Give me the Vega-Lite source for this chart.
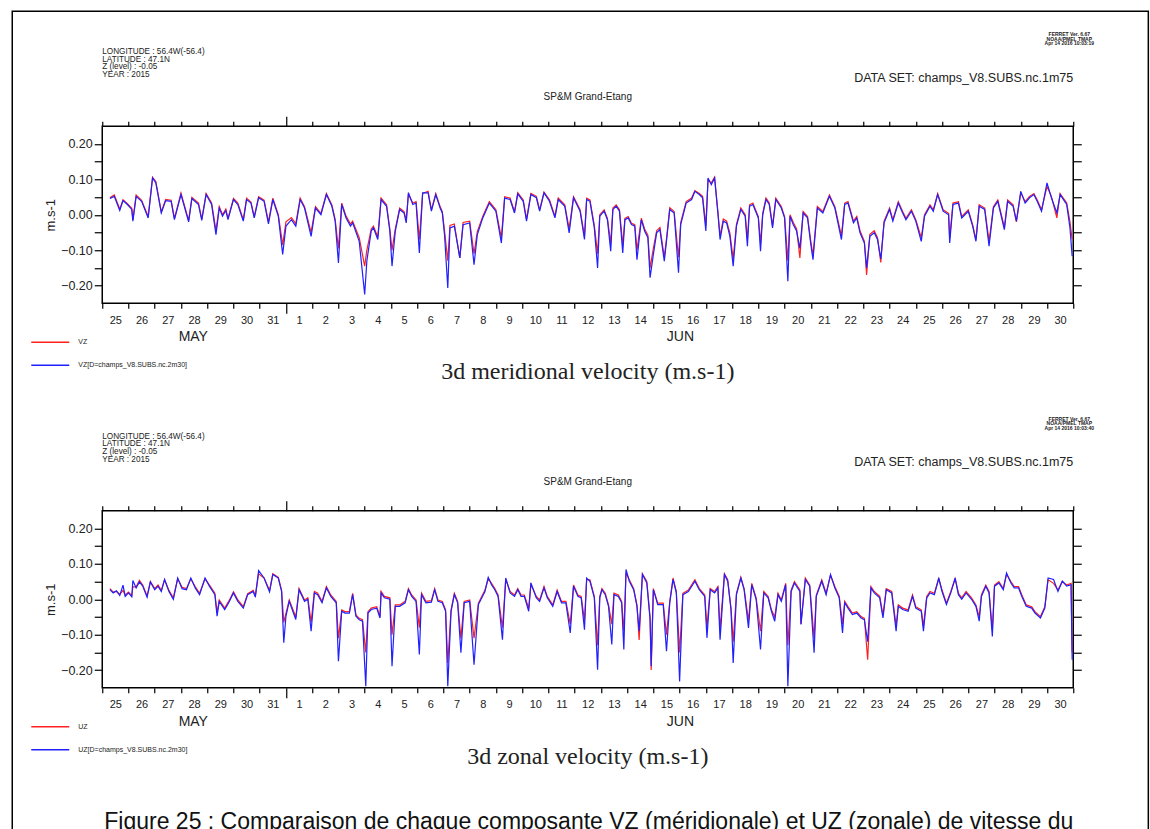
{
  "$schema": "https://vega.github.io/schema/vega-lite/v6.json",
  "background": "white",
  "padding": {"left": 10.25, "top": 9.25, "right": 0, "bottom": 0},
  "bounds": "flush",
  "spacing": 207.5,
  "resolve": {"scale": {"color": "independent"}, "legend": {"color": "independent"}},
  "config": {
    "view": {"stroke": "#000", "strokeWidth": 1.5},
    "axis": {"domain": false, "grid": false, "tickColor": "#000", "labelColor": "#222", "labelFont": "Liberation Sans", "titleFont": "Liberation Sans", "titleFontWeight": "normal", "titleColor": "#222"},
    "legend": {"orient": "none", "legendX": -72, "legendY": 196, "direction": "vertical", "title": null, "symbolType": "stroke", "symbolSize": 1444, "symbolStrokeWidth": 1.5, "labelFontSize": 7, "labelFont": "Liberation Sans", "labelOffset": 8, "rowPadding": -12, "labelColor": "#222", "labelLimit": 0, "padding": 0}
  },
  "datasets": {
    "vz": [
      {"t":"2015-05-25T07:00Z","a":0.048,"b":0.046},{"t":"2015-05-25T11:00Z","a":0.056,"b":0.052},{"t":"2015-05-25T16:00Z","a":0.016,"b":0.012},{"t":"2015-05-25T19:00Z","a":0.042,"b":0.040},{"t":"2015-05-25T23:00Z","a":0.031,"b":0.029},
      {"t":"2015-05-26T03:00Z","a":0.018,"b":0.015},{"t":"2015-05-26T04:00Z","a":-0.014,"b":-0.018},{"t":"2015-05-26T07:00Z","a":0.056,"b":0.052},{"t":"2015-05-26T12:00Z","a":0.041,"b":0.038},{"t":"2015-05-26T18:00Z","a":-0.005,"b":-0.009},{"t":"2015-05-26T22:00Z","a":0.106,"b":0.104},
      {"t":"2015-05-27T01:00Z","a":0.094,"b":0.090},{"t":"2015-05-27T06:00Z","a":0.008,"b":0.005},{"t":"2015-05-27T10:00Z","a":0.043,"b":0.040},{"t":"2015-05-27T15:00Z","a":0.041,"b":0.038},{"t":"2015-05-27T18:00Z","a":-0.010,"b":-0.014},
      {"t":"2015-05-28T00:00Z","a":0.061,"b":0.057},{"t":"2015-05-28T07:00Z","a":-0.016,"b":-0.020},{"t":"2015-05-28T10:00Z","a":0.049,"b":0.046},{"t":"2015-05-28T16:00Z","a":0.033,"b":0.029},{"t":"2015-05-28T19:00Z","a":-0.012,"b":-0.016},{"t":"2015-05-28T23:00Z","a":0.060,"b":0.057},
      {"t":"2015-05-29T04:00Z","a":0.033,"b":0.029},{"t":"2015-05-29T08:00Z","a":-0.045,"b":-0.056},{"t":"2015-05-29T11:00Z","a":0.023,"b":0.019},{"t":"2015-05-29T14:00Z","a":0.000,"b":-0.004},{"t":"2015-05-29T17:00Z","a":0.016,"b":0.012},{"t":"2015-05-29T19:00Z","a":-0.010,"b":-0.014},
      {"t":"2015-05-30T00:00Z","a":0.046,"b":0.043},{"t":"2015-05-30T04:00Z","a":0.033,"b":0.029},{"t":"2015-05-30T09:00Z","a":-0.014,"b":-0.018},{"t":"2015-05-30T12:00Z","a":0.047,"b":0.043},{"t":"2015-05-30T16:00Z","a":0.036,"b":0.033},{"t":"2015-05-30T19:00Z","a":-0.005,"b":-0.009},{"t":"2015-05-30T23:00Z","a":0.051,"b":0.048},
      {"t":"2015-05-31T04:00Z","a":0.041,"b":0.038},{"t":"2015-05-31T08:00Z","a":-0.020,"b":-0.026},{"t":"2015-05-31T12:00Z","a":0.047,"b":0.043},{"t":"2015-05-31T17:00Z","a":0.000,"b":-0.004},{"t":"2015-05-31T21:00Z","a":-0.085,"b":-0.112},
      {"t":"2015-06-01T00:00Z","a":-0.020,"b":-0.032},{"t":"2015-06-01T05:00Z","a":-0.008,"b":-0.014},{"t":"2015-06-01T09:00Z","a":-0.025,"b":-0.032},{"t":"2015-06-01T13:00Z","a":0.047,"b":0.043},{"t":"2015-06-01T17:00Z","a":0.023,"b":0.019},{"t":"2015-06-01T23:00Z","a":-0.050,"b":-0.061},
      {"t":"2015-06-02T03:00Z","a":0.023,"b":0.019},{"t":"2015-06-02T08:00Z","a":0.004,"b":0.000},{"t":"2015-06-02T13:00Z","a":0.060,"b":0.057},{"t":"2015-06-02T18:00Z","a":0.028,"b":0.024},{"t":"2015-06-02T21:00Z","a":-0.013,"b":-0.018},
      {"t":"2015-06-03T00:00Z","a":-0.095,"b":-0.136},{"t":"2015-06-03T03:00Z","a":0.033,"b":0.029},{"t":"2015-06-03T07:00Z","a":-0.004,"b":-0.009},{"t":"2015-06-03T11:00Z","a":-0.026,"b":-0.032},{"t":"2015-06-03T13:00Z","a":-0.018,"b":-0.023},{"t":"2015-06-03T19:00Z","a":-0.065,"b":-0.075},
      {"t":"2015-06-04T00:00Z","a":-0.145,"b":-0.225},{"t":"2015-06-04T02:00Z","a":-0.100,"b":-0.130},{"t":"2015-06-04T06:00Z","a":-0.040,"b":-0.046},{"t":"2015-06-04T08:00Z","a":-0.032,"b":-0.037},{"t":"2015-06-04T12:00Z","a":-0.063,"b":-0.070},{"t":"2015-06-04T15:00Z","a":0.047,"b":0.043},{"t":"2015-06-04T20:00Z","a":0.028,"b":0.024},{"t":"2015-06-04T23:00Z","a":-0.040,"b":-0.046},
      {"t":"2015-06-05T01:00Z","a":-0.100,"b":-0.145},{"t":"2015-06-05T04:00Z","a":-0.040,"b":-0.046},{"t":"2015-06-05T08:00Z","a":0.019,"b":0.015},{"t":"2015-06-05T12:00Z","a":0.009,"b":0.005},{"t":"2015-06-05T14:00Z","a":-0.015,"b":-0.023},{"t":"2015-06-05T16:00Z","a":0.058,"b":0.062},{"t":"2015-06-05T20:00Z","a":0.033,"b":0.029},{"t":"2015-06-05T23:00Z","a":0.037,"b":0.033},
      {"t":"2015-06-06T02:00Z","a":-0.070,"b":-0.108},{"t":"2015-06-06T05:00Z","a":0.060,"b":0.062},{"t":"2015-06-06T10:00Z","a":0.066,"b":0.062},{"t":"2015-06-06T13:00Z","a":0.014,"b":0.010},{"t":"2015-06-06T17:00Z","a":0.060,"b":0.057},{"t":"2015-06-06T21:00Z","a":0.023,"b":0.019},{"t":"2015-06-06T23:00Z","a":0.009,"b":0.005},
      {"t":"2015-06-07T01:00Z","a":-0.045,"b":-0.056},{"t":"2015-06-07T04:00Z","a":-0.130,"b":-0.207},{"t":"2015-06-07T06:00Z","a":-0.030,"b":-0.037},{"t":"2015-06-07T10:00Z","a":-0.026,"b":-0.032},{"t":"2015-06-07T15:00Z","a":-0.122,"b":-0.122},{"t":"2015-06-07T18:00Z","a":-0.022,"b":-0.028},
      {"t":"2015-06-08T00:00Z","a":-0.018,"b":-0.023},{"t":"2015-06-08T04:00Z","a":-0.110,"b":-0.141},{"t":"2015-06-08T07:00Z","a":-0.048,"b":-0.056},{"t":"2015-06-08T12:00Z","a":-0.004,"b":-0.009},{"t":"2015-06-08T18:00Z","a":0.037,"b":0.033},
      {"t":"2015-06-09T00:00Z","a":0.014,"b":0.010},{"t":"2015-06-09T05:00Z","a":-0.065,"b":-0.080},{"t":"2015-06-09T08:00Z","a":0.051,"b":0.047},{"t":"2015-06-09T13:00Z","a":0.047,"b":0.043},{"t":"2015-06-09T17:00Z","a":0.009,"b":0.005},{"t":"2015-06-09T20:00Z","a":0.062,"b":0.059},
      {"t":"2015-06-10T01:00Z","a":0.042,"b":0.038},{"t":"2015-06-10T04:00Z","a":-0.012,"b":-0.018},{"t":"2015-06-10T08:00Z","a":0.060,"b":0.057},{"t":"2015-06-10T13:00Z","a":0.052,"b":0.048},{"t":"2015-06-10T16:00Z","a":0.014,"b":0.010},{"t":"2015-06-10T20:00Z","a":0.064,"b":0.062},
      {"t":"2015-06-11T01:00Z","a":0.042,"b":0.038},{"t":"2015-06-11T06:00Z","a":-0.004,"b":-0.009},{"t":"2015-06-11T09:00Z","a":0.047,"b":0.043},{"t":"2015-06-11T15:00Z","a":0.028,"b":0.024},{"t":"2015-06-11T19:00Z","a":-0.040,"b":-0.051},{"t":"2015-06-11T23:00Z","a":0.051,"b":0.048},
      {"t":"2015-06-12T05:00Z","a":0.014,"b":0.010},{"t":"2015-06-12T09:00Z","a":-0.060,"b":-0.070},{"t":"2015-06-12T11:00Z","a":0.047,"b":0.043},{"t":"2015-06-12T14:00Z","a":0.042,"b":0.038},{"t":"2015-06-12T18:00Z","a":-0.030,"b":-0.037},{"t":"2015-06-12T21:00Z","a":-0.110,"b":-0.150},{"t":"2015-06-12T23:00Z","a":0.000,"b":-0.004},
      {"t":"2015-06-13T03:00Z","a":0.014,"b":0.010},{"t":"2015-06-13T06:00Z","a":-0.010,"b":-0.014},{"t":"2015-06-13T09:00Z","a":-0.080,"b":-0.103},{"t":"2015-06-13T11:00Z","a":0.019,"b":0.015},{"t":"2015-06-13T14:00Z","a":0.028,"b":0.024},{"t":"2015-06-13T17:00Z","a":0.014,"b":0.010},{"t":"2015-06-13T20:00Z","a":-0.085,"b":-0.108},{"t":"2015-06-13T22:00Z","a":-0.010,"b":-0.014},
      {"t":"2015-06-14T01:00Z","a":-0.005,"b":-0.009},{"t":"2015-06-14T04:00Z","a":-0.024,"b":-0.028},{"t":"2015-06-14T07:00Z","a":-0.028,"b":-0.032},{"t":"2015-06-14T09:00Z","a":-0.100,"b":-0.127},{"t":"2015-06-14T13:00Z","a":-0.010,"b":-0.014},{"t":"2015-06-14T16:00Z","a":-0.040,"b":-0.046},{"t":"2015-06-14T19:00Z","a":-0.058,"b":-0.065},{"t":"2015-06-14T21:00Z","a":-0.150,"b":-0.178},
      {"t":"2015-06-15T00:00Z","a":-0.095,"b":-0.112},{"t":"2015-06-15T03:00Z","a":-0.045,"b":-0.051},{"t":"2015-06-15T06:00Z","a":-0.036,"b":-0.042},{"t":"2015-06-15T10:00Z","a":-0.120,"b":-0.131},{"t":"2015-06-15T12:00Z","a":-0.068,"b":-0.075},{"t":"2015-06-15T15:00Z","a":0.020,"b":0.015},{"t":"2015-06-15T19:00Z","a":0.009,"b":0.005},{"t":"2015-06-15T23:00Z","a":-0.120,"b":-0.164},
      {"t":"2015-06-16T01:00Z","a":-0.022,"b":-0.028},{"t":"2015-06-16T06:00Z","a":0.037,"b":0.033},{"t":"2015-06-16T11:00Z","a":0.047,"b":0.043},{"t":"2015-06-16T14:00Z","a":0.068,"b":0.066},{"t":"2015-06-16T18:00Z","a":0.060,"b":0.057},{"t":"2015-06-16T21:00Z","a":0.052,"b":0.048},
      {"t":"2015-06-17T00:00Z","a":-0.030,"b":-0.046},{"t":"2015-06-17T02:00Z","a":0.098,"b":0.104},{"t":"2015-06-17T05:00Z","a":0.090,"b":0.085},{"t":"2015-06-17T08:00Z","a":0.106,"b":0.104},{"t":"2015-06-17T11:00Z","a":0.010,"b":0.005},{"t":"2015-06-17T13:00Z","a":-0.060,"b":-0.070},{"t":"2015-06-17T16:00Z","a":-0.012,"b":-0.018},{"t":"2015-06-17T19:00Z","a":-0.018,"b":-0.023},{"t":"2015-06-17T22:00Z","a":-0.052,"b":-0.061},
      {"t":"2015-06-18T01:00Z","a":-0.125,"b":-0.145},{"t":"2015-06-18T04:00Z","a":-0.027,"b":-0.032},{"t":"2015-06-18T08:00Z","a":0.019,"b":0.015},{"t":"2015-06-18T12:00Z","a":0.000,"b":-0.004},{"t":"2015-06-18T14:00Z","a":-0.070,"b":-0.089},{"t":"2015-06-18T16:00Z","a":0.028,"b":0.024},{"t":"2015-06-18T19:00Z","a":0.033,"b":0.029},
      {"t":"2015-06-19T00:00Z","a":-0.005,"b":-0.009},{"t":"2015-06-19T02:00Z","a":-0.080,"b":-0.103},{"t":"2015-06-19T04:00Z","a":0.004,"b":0.000},{"t":"2015-06-19T07:00Z","a":0.047,"b":0.043},{"t":"2015-06-19T10:00Z","a":0.033,"b":0.029},{"t":"2015-06-19T13:00Z","a":-0.030,"b":-0.037},{"t":"2015-06-19T16:00Z","a":0.047,"b":0.043},{"t":"2015-06-19T21:00Z","a":0.023,"b":0.019},
      {"t":"2015-06-20T00:00Z","a":-0.005,"b":-0.009},{"t":"2015-06-20T03:00Z","a":-0.130,"b":-0.188},{"t":"2015-06-20T05:00Z","a":0.000,"b":-0.004},{"t":"2015-06-20T08:00Z","a":-0.022,"b":-0.028},{"t":"2015-06-20T11:00Z","a":-0.040,"b":-0.046},{"t":"2015-06-20T14:00Z","a":-0.122,"b":-0.095},{"t":"2015-06-20T17:00Z","a":0.009,"b":0.005},{"t":"2015-06-20T21:00Z","a":-0.005,"b":-0.009},
      {"t":"2015-06-21T00:00Z","a":-0.075,"b":-0.084},{"t":"2015-06-21T02:00Z","a":-0.115,"b":-0.127},{"t":"2015-06-21T06:00Z","a":0.023,"b":0.019},{"t":"2015-06-21T11:00Z","a":0.009,"b":0.005},{"t":"2015-06-21T17:00Z","a":0.056,"b":0.052},{"t":"2015-06-21T22:00Z","a":0.023,"b":0.019},
      {"t":"2015-06-22T04:00Z","a":-0.060,"b":-0.070},{"t":"2015-06-22T07:00Z","a":0.033,"b":0.029},{"t":"2015-06-22T10:00Z","a":0.037,"b":0.033},{"t":"2015-06-22T15:00Z","a":-0.018,"b":-0.023},{"t":"2015-06-22T18:00Z","a":-0.005,"b":-0.009},{"t":"2015-06-22T21:00Z","a":-0.045,"b":-0.051},
      {"t":"2015-06-23T01:00Z","a":-0.075,"b":-0.080},{"t":"2015-06-23T03:00Z","a":-0.170,"b":-0.150},{"t":"2015-06-23T06:00Z","a":-0.055,"b":-0.061},{"t":"2015-06-23T10:00Z","a":-0.045,"b":-0.051},{"t":"2015-06-23T13:00Z","a":-0.065,"b":-0.070},{"t":"2015-06-23T16:00Z","a":-0.135,"b":-0.125},{"t":"2015-06-23T19:00Z","a":-0.018,"b":-0.023},
      {"t":"2015-06-24T00:00Z","a":0.019,"b":0.015},{"t":"2015-06-24T03:00Z","a":-0.014,"b":-0.018},{"t":"2015-06-24T08:00Z","a":0.037,"b":0.033},{"t":"2015-06-24T12:00Z","a":0.009,"b":0.005},{"t":"2015-06-24T15:00Z","a":-0.010,"b":-0.014},{"t":"2015-06-24T20:00Z","a":0.014,"b":0.010},
      {"t":"2015-06-25T00:00Z","a":-0.014,"b":-0.018},{"t":"2015-06-25T05:00Z","a":-0.065,"b":-0.075},{"t":"2015-06-25T08:00Z","a":0.000,"b":-0.004},{"t":"2015-06-25T13:00Z","a":0.028,"b":0.024},{"t":"2015-06-25T16:00Z","a":0.014,"b":0.010},{"t":"2015-06-25T20:00Z","a":0.060,"b":0.057},
      {"t":"2015-06-26T01:00Z","a":0.014,"b":0.010},{"t":"2015-06-26T06:00Z","a":0.004,"b":0.000},{"t":"2015-06-26T07:00Z","a":-0.065,"b":-0.080},{"t":"2015-06-26T10:00Z","a":0.033,"b":0.029},{"t":"2015-06-26T15:00Z","a":0.037,"b":0.033},{"t":"2015-06-26T18:00Z","a":-0.005,"b":-0.009},
      {"t":"2015-06-27T00:00Z","a":0.014,"b":0.010},{"t":"2015-06-27T04:00Z","a":-0.028,"b":-0.032},{"t":"2015-06-27T07:00Z","a":-0.070,"b":-0.075},{"t":"2015-06-27T10:00Z","a":0.028,"b":0.024},{"t":"2015-06-27T15:00Z","a":0.019,"b":0.015},{"t":"2015-06-27T19:00Z","a":-0.075,"b":-0.089},{"t":"2015-06-27T23:00Z","a":0.023,"b":0.019},
      {"t":"2015-06-28T03:00Z","a":0.042,"b":0.038},{"t":"2015-06-28T09:00Z","a":-0.035,"b":-0.042},{"t":"2015-06-28T12:00Z","a":0.042,"b":0.038},{"t":"2015-06-28T17:00Z","a":0.028,"b":0.024},{"t":"2015-06-28T20:00Z","a":-0.020,"b":-0.018},
      {"t":"2015-06-29T00:00Z","a":0.062,"b":0.066},{"t":"2015-06-29T04:00Z","a":0.037,"b":0.033},{"t":"2015-06-29T08:00Z","a":0.052,"b":0.048},{"t":"2015-06-29T12:00Z","a":0.060,"b":0.057},{"t":"2015-06-29T15:00Z","a":0.042,"b":0.038},{"t":"2015-06-29T19:00Z","a":0.014,"b":0.010},
      {"t":"2015-06-30T00:00Z","a":0.080,"b":0.090},{"t":"2015-06-30T04:00Z","a":0.052,"b":0.048},{"t":"2015-06-30T09:00Z","a":-0.009,"b":0.005},{"t":"2015-06-30T12:00Z","a":0.060,"b":0.057},{"t":"2015-06-30T18:00Z","a":0.033,"b":0.029},{"t":"2015-06-30T21:00Z","a":-0.020,"b":-0.037},{"t":"2015-06-30T23:00Z","a":-0.070,"b":-0.117}
    ],
    "uz": [
      {"t":"2015-05-25T07:00Z","a":0.030,"b":0.027},{"t":"2015-05-25T10:00Z","a":0.020,"b":0.018},{"t":"2015-05-25T13:00Z","a":0.022,"b":0.024},{"t":"2015-05-25T16:00Z","a":0.014,"b":0.011},{"t":"2015-05-25T19:00Z","a":0.025,"b":0.040},{"t":"2015-05-25T21:00Z","a":0.012,"b":0.008},
      {"t":"2015-05-26T00:00Z","a":0.020,"b":0.018},{"t":"2015-05-26T03:00Z","a":0.010,"b":0.007},{"t":"2015-05-26T04:00Z","a":0.035,"b":0.053},{"t":"2015-05-26T07:00Z","a":0.035,"b":0.032},{"t":"2015-05-26T10:00Z","a":0.053,"b":0.049},{"t":"2015-05-26T13:00Z","a":0.040,"b":0.037},{"t":"2015-05-26T17:00Z","a":0.009,"b":0.006},{"t":"2015-05-26T20:00Z","a":0.050,"b":0.049},
      {"t":"2015-05-27T00:00Z","a":0.030,"b":0.027},{"t":"2015-05-27T03:00Z","a":0.040,"b":0.037},{"t":"2015-05-27T06:00Z","a":0.025,"b":0.022},{"t":"2015-05-27T09:00Z","a":0.055,"b":0.056},{"t":"2015-05-27T13:00Z","a":0.025,"b":0.022},{"t":"2015-05-27T17:00Z","a":0.004,"b":0.000},{"t":"2015-05-27T21:00Z","a":0.058,"b":0.060},
      {"t":"2015-05-28T01:00Z","a":0.034,"b":0.030},{"t":"2015-05-28T05:00Z","a":0.030,"b":0.027},{"t":"2015-05-28T09:00Z","a":0.058,"b":0.060},{"t":"2015-05-28T13:00Z","a":0.036,"b":0.032},{"t":"2015-05-28T17:00Z","a":0.017,"b":0.013},{"t":"2015-05-28T22:00Z","a":0.058,"b":0.060},
      {"t":"2015-05-29T02:00Z","a":0.040,"b":0.037},{"t":"2015-05-29T07:00Z","a":0.017,"b":0.013},{"t":"2015-05-29T09:00Z","a":-0.038,"b":-0.048},{"t":"2015-05-29T11:00Z","a":-0.002,"b":-0.006},{"t":"2015-05-29T16:00Z","a":-0.025,"b":-0.029},{"t":"2015-05-29T20:00Z","a":-0.004,"b":-0.008},
      {"t":"2015-05-30T00:00Z","a":0.021,"b":0.018},{"t":"2015-05-30T04:00Z","a":-0.002,"b":-0.006},{"t":"2015-05-30T09:00Z","a":-0.021,"b":-0.025},{"t":"2015-05-30T13:00Z","a":0.016,"b":0.013},{"t":"2015-05-30T18:00Z","a":0.025,"b":0.022},{"t":"2015-05-30T20:00Z","a":0.010,"b":0.006},{"t":"2015-05-30T23:00Z","a":0.072,"b":0.081},
      {"t":"2015-05-31T04:00Z","a":0.060,"b":0.060},{"t":"2015-05-31T09:00Z","a":0.025,"b":0.021},{"t":"2015-05-31T12:00Z","a":0.072,"b":0.070},{"t":"2015-05-31T17:00Z","a":0.062,"b":0.060},{"t":"2015-05-31T20:00Z","a":0.026,"b":0.022},{"t":"2015-05-31T22:00Z","a":-0.065,"b":-0.123},
      {"t":"2015-06-01T00:00Z","a":-0.040,"b":-0.048},{"t":"2015-06-01T03:00Z","a":-0.002,"b":-0.006},{"t":"2015-06-01T09:00Z","a":-0.050,"b":-0.057},{"t":"2015-06-01T12:00Z","a":0.030,"b":0.027},{"t":"2015-06-01T17:00Z","a":-0.002,"b":-0.006},{"t":"2015-06-01T20:00Z","a":0.004,"b":0.000},{"t":"2015-06-01T23:00Z","a":-0.065,"b":-0.090},
      {"t":"2015-06-02T02:00Z","a":0.022,"b":0.018},{"t":"2015-06-02T05:00Z","a":0.017,"b":0.013},{"t":"2015-06-02T09:00Z","a":-0.006,"b":-0.010},{"t":"2015-06-02T13:00Z","a":0.036,"b":0.032},{"t":"2015-06-02T17:00Z","a":0.012,"b":0.008},{"t":"2015-06-02T22:00Z","a":-0.006,"b":-0.010},
      {"t":"2015-06-03T00:00Z","a":-0.110,"b":-0.175},{"t":"2015-06-03T03:00Z","a":-0.030,"b":-0.034},{"t":"2015-06-03T06:00Z","a":-0.035,"b":-0.039},{"t":"2015-06-03T10:00Z","a":-0.035,"b":-0.039},{"t":"2015-06-03T13:00Z","a":0.017,"b":0.013},{"t":"2015-06-03T16:00Z","a":-0.044,"b":-0.048},{"t":"2015-06-03T19:00Z","a":-0.054,"b":-0.058},{"t":"2015-06-03T22:00Z","a":-0.058,"b":-0.062},
      {"t":"2015-06-04T01:00Z","a":-0.150,"b":-0.246},{"t":"2015-06-04T03:00Z","a":-0.035,"b":-0.039},{"t":"2015-06-04T06:00Z","a":-0.025,"b":-0.029},{"t":"2015-06-04T11:00Z","a":-0.021,"b":-0.025},{"t":"2015-06-04T14:00Z","a":-0.049,"b":-0.053},{"t":"2015-06-04T15:00Z","a":0.022,"b":0.018},{"t":"2015-06-04T18:00Z","a":0.008,"b":0.004},{"t":"2015-06-04T23:00Z","a":0.004,"b":0.000},
      {"t":"2015-06-05T01:00Z","a":-0.100,"b":-0.189},{"t":"2015-06-05T04:00Z","a":-0.016,"b":-0.020},{"t":"2015-06-05T08:00Z","a":-0.016,"b":-0.020},{"t":"2015-06-05T13:00Z","a":-0.006,"b":-0.010},{"t":"2015-06-05T16:00Z","a":0.030,"b":0.027},{"t":"2015-06-05T19:00Z","a":0.012,"b":0.008},{"t":"2015-06-05T23:00Z","a":-0.002,"b":-0.006},
      {"t":"2015-06-06T02:00Z","a":-0.080,"b":-0.156},{"t":"2015-06-06T04:00Z","a":0.017,"b":0.013},{"t":"2015-06-06T08:00Z","a":-0.006,"b":-0.010},{"t":"2015-06-06T13:00Z","a":-0.004,"b":-0.008},{"t":"2015-06-06T16:00Z","a":0.030,"b":0.027},{"t":"2015-06-06T19:00Z","a":-0.002,"b":-0.006},{"t":"2015-06-06T23:00Z","a":-0.006,"b":-0.010},
      {"t":"2015-06-07T02:00Z","a":-0.030,"b":-0.034},{"t":"2015-06-07T04:00Z","a":-0.180,"b":-0.246},{"t":"2015-06-07T07:00Z","a":-0.030,"b":-0.034},{"t":"2015-06-07T10:00Z","a":0.017,"b":0.013},{"t":"2015-06-07T13:00Z","a":-0.006,"b":-0.010},{"t":"2015-06-07T16:00Z","a":-0.110,"b":-0.151},{"t":"2015-06-07T19:00Z","a":-0.006,"b":-0.010},
      {"t":"2015-06-08T00:00Z","a":-0.002,"b":-0.006},{"t":"2015-06-08T04:00Z","a":-0.110,"b":-0.185},{"t":"2015-06-08T08:00Z","a":-0.011,"b":-0.015},{"t":"2015-06-08T14:00Z","a":0.026,"b":0.022},{"t":"2015-06-08T17:00Z","a":0.058,"b":0.062},{"t":"2015-06-08T20:00Z","a":0.045,"b":0.041},{"t":"2015-06-08T23:00Z","a":0.030,"b":0.027},
      {"t":"2015-06-09T02:00Z","a":0.012,"b":0.008},{"t":"2015-06-09T06:00Z","a":-0.080,"b":-0.114},{"t":"2015-06-09T09:00Z","a":0.056,"b":0.060},{"t":"2015-06-09T13:00Z","a":0.022,"b":0.018},{"t":"2015-06-09T17:00Z","a":0.012,"b":0.008},{"t":"2015-06-09T20:00Z","a":0.030,"b":0.027},{"t":"2015-06-09T23:00Z","a":0.012,"b":0.008},
      {"t":"2015-06-10T02:00Z","a":0.012,"b":0.008},{"t":"2015-06-10T06:00Z","a":-0.025,"b":-0.034},{"t":"2015-06-10T08:00Z","a":0.042,"b":0.046},{"t":"2015-06-10T13:00Z","a":0.008,"b":0.004},{"t":"2015-06-10T16:00Z","a":-0.002,"b":-0.006},{"t":"2015-06-10T20:00Z","a":0.036,"b":0.032},{"t":"2015-06-10T23:00Z","a":0.008,"b":0.004},
      {"t":"2015-06-11T04:00Z","a":-0.016,"b":-0.020},{"t":"2015-06-11T08:00Z","a":0.026,"b":0.022},{"t":"2015-06-11T12:00Z","a":-0.006,"b":-0.010},{"t":"2015-06-11T16:00Z","a":-0.006,"b":-0.010},{"t":"2015-06-11T20:00Z","a":-0.070,"b":-0.095},{"t":"2015-06-11T23:00Z","a":0.040,"b":0.037},
      {"t":"2015-06-12T03:00Z","a":0.012,"b":0.008},{"t":"2015-06-12T06:00Z","a":0.008,"b":0.004},{"t":"2015-06-12T09:00Z","a":-0.060,"b":-0.086},{"t":"2015-06-12T11:00Z","a":0.056,"b":0.060},{"t":"2015-06-12T14:00Z","a":0.055,"b":0.051},{"t":"2015-06-12T18:00Z","a":0.008,"b":0.004},{"t":"2015-06-12T21:00Z","a":-0.130,"b":-0.199},{"t":"2015-06-12T23:00Z","a":0.008,"b":0.004},
      {"t":"2015-06-13T01:00Z","a":0.030,"b":0.027},{"t":"2015-06-13T04:00Z","a":0.017,"b":0.013},{"t":"2015-06-13T07:00Z","a":-0.016,"b":-0.020},{"t":"2015-06-13T10:00Z","a":-0.070,"b":-0.128},{"t":"2015-06-13T12:00Z","a":0.017,"b":0.013},{"t":"2015-06-13T16:00Z","a":0.012,"b":0.008},{"t":"2015-06-13T19:00Z","a":-0.006,"b":-0.010},{"t":"2015-06-13T21:00Z","a":-0.090,"b":-0.142},{"t":"2015-06-13T23:00Z","a":0.075,"b":0.084},
      {"t":"2015-06-14T02:00Z","a":0.055,"b":0.051},{"t":"2015-06-14T06:00Z","a":0.030,"b":0.027},{"t":"2015-06-14T09:00Z","a":-0.016,"b":-0.020},{"t":"2015-06-14T11:00Z","a":-0.115,"b":-0.090},{"t":"2015-06-14T14:00Z","a":0.072,"b":0.070},{"t":"2015-06-14T18:00Z","a":0.050,"b":0.046},{"t":"2015-06-14T21:00Z","a":-0.050,"b":-0.057},{"t":"2015-06-14T22:00Z","a":-0.200,"b":-0.189},
      {"t":"2015-06-15T00:00Z","a":0.030,"b":0.027},{"t":"2015-06-15T04:00Z","a":-0.011,"b":-0.015},{"t":"2015-06-15T09:00Z","a":-0.011,"b":-0.015},{"t":"2015-06-15T12:00Z","a":-0.100,"b":-0.147},{"t":"2015-06-15T15:00Z","a":-0.006,"b":-0.010},{"t":"2015-06-15T18:00Z","a":0.060,"b":0.056},{"t":"2015-06-15T21:00Z","a":0.022,"b":0.018},
      {"t":"2015-06-16T00:00Z","a":-0.150,"b":-0.232},{"t":"2015-06-16T03:00Z","a":0.017,"b":0.013},{"t":"2015-06-16T08:00Z","a":0.026,"b":0.022},{"t":"2015-06-16T14:00Z","a":0.055,"b":0.051},{"t":"2015-06-16T18:00Z","a":0.030,"b":0.027},{"t":"2015-06-16T23:00Z","a":0.012,"b":0.008},
      {"t":"2015-06-17T01:00Z","a":-0.080,"b":-0.109},{"t":"2015-06-17T04:00Z","a":0.030,"b":0.027},{"t":"2015-06-17T08:00Z","a":0.022,"b":0.018},{"t":"2015-06-17T11:00Z","a":0.036,"b":0.032},{"t":"2015-06-17T13:00Z","a":-0.085,"b":-0.114},{"t":"2015-06-17T17:00Z","a":0.072,"b":0.070},{"t":"2015-06-17T20:00Z","a":0.055,"b":0.051},{"t":"2015-06-17T23:00Z","a":-0.025,"b":-0.029},
      {"t":"2015-06-18T01:00Z","a":-0.120,"b":-0.180},{"t":"2015-06-18T04:00Z","a":0.017,"b":0.013},{"t":"2015-06-18T08:00Z","a":0.062,"b":0.060},{"t":"2015-06-18T11:00Z","a":0.030,"b":0.027},{"t":"2015-06-18T15:00Z","a":-0.060,"b":-0.081},{"t":"2015-06-18T18:00Z","a":0.045,"b":0.041},{"t":"2015-06-18T22:00Z","a":0.004,"b":0.000},
      {"t":"2015-06-19T02:00Z","a":-0.090,"b":-0.142},{"t":"2015-06-19T05:00Z","a":0.022,"b":0.018},{"t":"2015-06-19T09:00Z","a":0.008,"b":0.004},{"t":"2015-06-19T12:00Z","a":-0.030,"b":-0.034},{"t":"2015-06-19T15:00Z","a":-0.050,"b":-0.062},{"t":"2015-06-19T18:00Z","a":0.017,"b":0.013},{"t":"2015-06-19T21:00Z","a":-0.002,"b":-0.006},
      {"t":"2015-06-20T01:00Z","a":0.045,"b":0.041},{"t":"2015-06-20T03:00Z","a":-0.130,"b":-0.246},{"t":"2015-06-20T06:00Z","a":0.026,"b":0.022},{"t":"2015-06-20T09:00Z","a":0.050,"b":0.046},{"t":"2015-06-20T14:00Z","a":0.026,"b":0.022},{"t":"2015-06-20T15:00Z","a":-0.070,"b":-0.071},{"t":"2015-06-20T19:00Z","a":0.060,"b":0.056},{"t":"2015-06-20T23:00Z","a":0.040,"b":0.037},
      {"t":"2015-06-21T03:00Z","a":-0.110,"b":-0.151},{"t":"2015-06-21T05:00Z","a":0.012,"b":0.008},{"t":"2015-06-21T10:00Z","a":0.055,"b":0.051},{"t":"2015-06-21T14:00Z","a":0.017,"b":0.013},{"t":"2015-06-21T18:00Z","a":0.068,"b":0.070},{"t":"2015-06-21T22:00Z","a":0.036,"b":0.032},
      {"t":"2015-06-22T02:00Z","a":0.008,"b":0.004},{"t":"2015-06-22T05:00Z","a":-0.070,"b":-0.095},{"t":"2015-06-22T07:00Z","a":-0.006,"b":-0.010},{"t":"2015-06-22T10:00Z","a":-0.021,"b":-0.025},{"t":"2015-06-22T14:00Z","a":-0.039,"b":-0.043},{"t":"2015-06-22T18:00Z","a":-0.035,"b":-0.039},{"t":"2015-06-22T22:00Z","a":-0.049,"b":-0.053},
      {"t":"2015-06-23T01:00Z","a":-0.054,"b":-0.058},{"t":"2015-06-23T04:00Z","a":-0.171,"b":-0.120},{"t":"2015-06-23T07:00Z","a":0.036,"b":0.032},{"t":"2015-06-23T10:00Z","a":0.022,"b":0.018},{"t":"2015-06-23T15:00Z","a":0.008,"b":0.004},{"t":"2015-06-23T18:00Z","a":-0.045,"b":-0.053},{"t":"2015-06-23T21:00Z","a":0.030,"b":0.027},
      {"t":"2015-06-24T02:00Z","a":0.022,"b":0.018},{"t":"2015-06-24T06:00Z","a":-0.075,"b":-0.090},{"t":"2015-06-24T08:00Z","a":-0.016,"b":-0.020},{"t":"2015-06-24T12:00Z","a":-0.025,"b":-0.029},{"t":"2015-06-24T17:00Z","a":-0.030,"b":-0.034},{"t":"2015-06-24T21:00Z","a":0.012,"b":0.008},
      {"t":"2015-06-25T00:00Z","a":-0.021,"b":-0.025},{"t":"2015-06-25T05:00Z","a":-0.030,"b":-0.034},{"t":"2015-06-25T07:00Z","a":-0.075,"b":-0.090},{"t":"2015-06-25T10:00Z","a":0.008,"b":0.004},{"t":"2015-06-25T13:00Z","a":0.022,"b":0.018},{"t":"2015-06-25T17:00Z","a":0.017,"b":0.013},{"t":"2015-06-25T21:00Z","a":0.058,"b":0.060},
      {"t":"2015-06-26T00:00Z","a":0.026,"b":0.022},{"t":"2015-06-26T04:00Z","a":-0.011,"b":-0.015},{"t":"2015-06-26T08:00Z","a":0.022,"b":0.018},{"t":"2015-06-26T12:00Z","a":0.058,"b":0.060},{"t":"2015-06-26T15:00Z","a":0.017,"b":0.013},{"t":"2015-06-26T18:00Z","a":0.004,"b":0.000},{"t":"2015-06-26T22:00Z","a":0.022,"b":0.018},
      {"t":"2015-06-27T03:00Z","a":0.004,"b":0.000},{"t":"2015-06-27T07:00Z","a":-0.016,"b":-0.020},{"t":"2015-06-27T10:00Z","a":-0.050,"b":-0.062},{"t":"2015-06-27T12:00Z","a":0.012,"b":0.008},{"t":"2015-06-27T16:00Z","a":0.040,"b":0.037},{"t":"2015-06-27T19:00Z","a":0.022,"b":0.018},{"t":"2015-06-27T22:00Z","a":-0.085,"b":-0.105},
      {"t":"2015-06-28T00:00Z","a":0.040,"b":0.037},{"t":"2015-06-28T04:00Z","a":0.050,"b":0.046},{"t":"2015-06-28T08:00Z","a":0.030,"b":0.027},{"t":"2015-06-28T11:00Z","a":0.070,"b":0.074},{"t":"2015-06-28T15:00Z","a":0.050,"b":0.046},{"t":"2015-06-28T18:00Z","a":0.036,"b":0.032},{"t":"2015-06-28T22:00Z","a":0.036,"b":0.032},
      {"t":"2015-06-29T01:00Z","a":0.012,"b":0.008},{"t":"2015-06-29T05:00Z","a":-0.016,"b":-0.020},{"t":"2015-06-29T10:00Z","a":-0.021,"b":-0.025},{"t":"2015-06-29T13:00Z","a":-0.035,"b":-0.039},{"t":"2015-06-29T18:00Z","a":-0.049,"b":-0.053},{"t":"2015-06-29T22:00Z","a":-0.021,"b":-0.025},
      {"t":"2015-06-30T01:00Z","a":0.055,"b":0.060},{"t":"2015-06-30T06:00Z","a":0.045,"b":0.056},{"t":"2015-06-30T10:00Z","a":0.026,"b":0.022},{"t":"2015-06-30T14:00Z","a":0.050,"b":0.051},{"t":"2015-06-30T18:00Z","a":0.040,"b":0.037},{"t":"2015-06-30T22:00Z","a":0.045,"b":0.041},{"t":"2015-06-30T23:00Z","a":-0.150,"b":-0.171}
    ]
  },
  "vconcat": [
    {
      "width": 971,
      "height": 177,
      "data": {"name": "vz"},
      "resolve": {"axis": {"x": "independent", "y": "independent"}},
      "layer": [
        {
          "mark": {"type": "line", "strokeWidth": 1.2},
          "encoding": {
            "x": {"field": "t", "type": "temporal", "scale": {"type": "utc", "domain": [{"year": 2015, "month": 5, "date": 25, "utc": true}, {"year": 2015, "month": 7, "date": 1, "utc": true}], "nice": false},
              "axis": {"orient": "bottom", "title": null, "tickCount": {"interval": "day", "step": 1}, "labelExpr": "utcmonth(datum.value)==6 && utcdate(datum.value)==1 ? '' : utcFormat(datum.value, '%-d')", "labelOffset": 13.12, "labelFlush": false, "labelOverlap": false, "labelFontSize": 11, "labelPadding": {"condition": {"test": "utcmonth(datum.value)==5 && utcdate(datum.value)==1", "value": 1}, "value": 6}, "tickSize": {"condition": {"test": "utcmonth(datum.value)==5 && utcdate(datum.value)==1", "value": 10}, "value": 5}, "tickWidth": 1.2}},
            "y": {"field": "a", "type": "quantitative", "scale": {"domain": [-0.25, 0.25], "nice": false, "zero": false},
              "axis": {"orient": "left", "title": "m.s-1", "values": [-0.2, -0.15, -0.1, -0.05, 0, 0.05, 0.1, 0.15, 0.2], "labelExpr": "abs(round(datum.value*20)) % 2 == 1 ? '' : format(datum.value, '.2f')", "labelFontSize": 12.5, "labelPadding": 2, "tickSize": 8, "tickWidth": 1.2, "titleFontSize": 13, "titlePadding": 3}},
            "color": {"datum": "VZ", "type": "nominal", "scale": {"domain": ["VZ", "VZ[D=champs_V8.SUBS.nc.2m30]"], "range": ["#ff2020", "#2020ff"]}}
          }
        },
        {
          "mark": {"type": "line", "strokeWidth": 1.2},
          "encoding": {
            "x": {"field": "t", "type": "temporal", "axis": {"orient": "top", "title": null, "tickCount": {"interval": "day", "step": 1}, "labels": false, "tickSize": {"condition": {"test": "utcmonth(datum.value)==5 && utcdate(datum.value)==1", "value": 10}, "value": 5}, "tickWidth": 1.2}},
            "y": {"field": "b", "type": "quantitative", "axis": {"orient": "right", "title": null, "values": [-0.2, -0.15, -0.1, -0.05, 0, 0.05, 0.1, 0.15, 0.2], "labels": false, "tickSize": 8, "tickWidth": 1.2}},
            "color": {"datum": "VZ[D=champs_V8.SUBS.nc.2m30]", "type": "nominal"}
          }
        },
        {
          "data": {"values": [{}]},
          "mark": {"type": "rect", "filled": false, "stroke": "#000", "strokeWidth": 1.5},
          "encoding": {
            "x": {"datum": {"year": 2015, "month": 5, "date": 21, "hours": 13, "minutes": 42, "utc": true}, "type": "temporal", "axis": null},
            "x2": {"datum": {"year": 2015, "month": 7, "date": 3, "hours": 20, "minutes": 40, "utc": true}},
            "y": {"datum": 0.5749, "type": "quantitative", "axis": null},
            "y2": {"datum": -1.8}
          }
        },
        {
          "data": {"values": [{}]},
          "mark": {"type": "text", "align": "left", "baseline": "top", "font": "Liberation Sans", "fontSize": 8.2, "lineBreak": "\n", "lineHeight": 7.6, "color": "#222"},
          "encoding": {
            "x": {"datum": {"year": 2015, "month": 5, "date": 25, "utc": true}, "type": "temporal", "axis": null},
            "y": {"datum": 0.4703, "type": "quantitative", "axis": null},
            "text": {"value": "LONGITUDE : 56.4W(-56.4)\nLATITUDE : 47.1N\nZ (level) : -0.05\nYEAR : 2015"}
          }
        },
        {
          "data": {"values": [{}]},
          "mark": {"type": "text", "align": "center", "baseline": "top", "font": "Liberation Sans", "fontSize": 5, "fontWeight": "bold", "lineBreak": "\n", "lineHeight": 4.5, "color": "#222"},
          "encoding": {
            "x": {"datum": {"year": 2015, "month": 6, "date": 30, "hours": 20, "minutes": 24, "utc": true}, "type": "temporal", "axis": null},
            "y": {"datum": 0.5155, "type": "quantitative", "axis": null},
            "text": {"value": "FERRET Ver. 6.67\nNOAA/PMEL TMAP\nApr 14 2016 10:03:19"}
          }
        },
        {
          "data": {"values": [{}]},
          "mark": {"type": "text", "align": "right", "baseline": "alphabetic", "font": "Liberation Sans", "fontSize": 12.5, "color": "#222"},
          "encoding": {
            "x": {"datum": {"year": 2015, "month": 7, "date": 1, "utc": true}, "type": "temporal", "axis": null},
            "y": {"datum": 0.3757, "type": "quantitative", "axis": null},
            "text": {"value": "DATA SET: champs_V8.SUBS.nc.1m75"}
          }
        },
        {
          "data": {"values": [{}]},
          "mark": {"type": "text", "align": "center", "baseline": "middle", "font": "Liberation Sans", "fontSize": 10, "color": "#222"},
          "encoding": {
            "x": {"datum": {"year": 2015, "month": 6, "date": 12, "hours": 12, "utc": true}, "type": "temporal", "axis": null},
            "y": {"datum": 0.3319, "type": "quantitative", "axis": null},
            "text": {"value": "SP&M Grand-Etang"}
          }
        },
        {
          "data": {"values": [{}]},
          "mark": {"type": "text", "align": "center", "baseline": "middle", "font": "Liberation Sans", "fontSize": 14, "color": "#222"},
          "encoding": {
            "x": {"datum": {"year": 2015, "month": 5, "date": 28, "hours": 11, "minutes": 15, "utc": true}, "type": "temporal", "axis": null},
            "y": {"datum": -0.346, "type": "quantitative", "axis": null},
            "text": {"value": "MAY"}
          }
        },
        {
          "data": {"values": [{}]},
          "mark": {"type": "text", "align": "center", "baseline": "middle", "font": "Liberation Sans", "fontSize": 14, "color": "#222"},
          "encoding": {
            "x": {"datum": {"year": 2015, "month": 6, "date": 16, "hours": 0, "minutes": 45, "utc": true}, "type": "temporal", "axis": null},
            "y": {"datum": -0.346, "type": "quantitative", "axis": null},
            "text": {"value": "JUN"}
          }
        },
        {
          "data": {"values": [{}]},
          "mark": {"type": "text", "align": "center", "baseline": "alphabetic", "font": "Liberation Serif", "fontSize": 24, "color": "#222"},
          "encoding": {
            "x": {"datum": {"year": 2015, "month": 6, "date": 12, "hours": 12, "utc": true}, "type": "temporal", "axis": null},
            "y": {"datum": -0.4647, "type": "quantitative", "axis": null},
            "text": {"value": "3d meridional velocity (m.s-1)"}
          }
        }
      ]
    },
    {
      "width": 971,
      "height": 177,
      "data": {"name": "uz"},
      "resolve": {"axis": {"x": "independent", "y": "independent"}},
      "layer": [
        {
          "mark": {"type": "line", "strokeWidth": 1.2},
          "encoding": {
            "x": {"field": "t", "type": "temporal", "scale": {"type": "utc", "domain": [{"year": 2015, "month": 5, "date": 25, "utc": true}, {"year": 2015, "month": 7, "date": 1, "utc": true}], "nice": false},
              "axis": {"orient": "bottom", "title": null, "tickCount": {"interval": "day", "step": 1}, "labelExpr": "utcmonth(datum.value)==6 && utcdate(datum.value)==1 ? '' : utcFormat(datum.value, '%-d')", "labelOffset": 13.12, "labelFlush": false, "labelOverlap": false, "labelFontSize": 11, "labelPadding": {"condition": {"test": "utcmonth(datum.value)==5 && utcdate(datum.value)==1", "value": 1}, "value": 6}, "tickSize": {"condition": {"test": "utcmonth(datum.value)==5 && utcdate(datum.value)==1", "value": 10}, "value": 5}, "tickWidth": 1.2}},
            "y": {"field": "a", "type": "quantitative", "scale": {"domain": [-0.25, 0.25], "nice": false, "zero": false},
              "axis": {"orient": "left", "title": "m.s-1", "values": [-0.2, -0.15, -0.1, -0.05, 0, 0.05, 0.1, 0.15, 0.2], "labelExpr": "abs(round(datum.value*20)) % 2 == 1 ? '' : format(datum.value, '.2f')", "labelFontSize": 12.5, "labelPadding": 2, "tickSize": 8, "tickWidth": 1.2, "titleFontSize": 13, "titlePadding": 3}},
            "color": {"datum": "UZ", "type": "nominal", "scale": {"domain": ["UZ", "UZ[D=champs_V8.SUBS.nc.2m30]"], "range": ["#ff2020", "#2020ff"]}}
          }
        },
        {
          "mark": {"type": "line", "strokeWidth": 1.2},
          "encoding": {
            "x": {"field": "t", "type": "temporal", "axis": {"orient": "top", "title": null, "tickCount": {"interval": "day", "step": 1}, "labels": false, "tickSize": {"condition": {"test": "utcmonth(datum.value)==5 && utcdate(datum.value)==1", "value": 10}, "value": 5}, "tickWidth": 1.2}},
            "y": {"field": "b", "type": "quantitative", "axis": {"orient": "right", "title": null, "values": [-0.2, -0.15, -0.1, -0.05, 0, 0.05, 0.1, 0.15, 0.2], "labels": false, "tickSize": 8, "tickWidth": 1.2}},
            "color": {"datum": "UZ[D=champs_V8.SUBS.nc.2m30]", "type": "nominal"}
          }
        },
        {
          "data": {"values": [{}]},
          "mark": {"type": "text", "align": "left", "baseline": "top", "font": "Liberation Sans", "fontSize": 8.2, "lineBreak": "\n", "lineHeight": 7.6, "color": "#222"},
          "encoding": {
            "x": {"datum": {"year": 2015, "month": 5, "date": 25, "utc": true}, "type": "temporal", "axis": null},
            "y": {"datum": 0.4703, "type": "quantitative", "axis": null},
            "text": {"value": "LONGITUDE : 56.4W(-56.4)\nLATITUDE : 47.1N\nZ (level) : -0.05\nYEAR : 2015"}
          }
        },
        {
          "data": {"values": [{}]},
          "mark": {"type": "text", "align": "center", "baseline": "top", "font": "Liberation Sans", "fontSize": 5, "fontWeight": "bold", "lineBreak": "\n", "lineHeight": 4.5, "color": "#222"},
          "encoding": {
            "x": {"datum": {"year": 2015, "month": 6, "date": 30, "hours": 20, "minutes": 24, "utc": true}, "type": "temporal", "axis": null},
            "y": {"datum": 0.5155, "type": "quantitative", "axis": null},
            "text": {"value": "FERRET Ver. 6.67\nNOAA/PMEL TMAP\nApr 14 2016 10:03:40"}
          }
        },
        {
          "data": {"values": [{}]},
          "mark": {"type": "text", "align": "right", "baseline": "alphabetic", "font": "Liberation Sans", "fontSize": 12.5, "color": "#222"},
          "encoding": {
            "x": {"datum": {"year": 2015, "month": 7, "date": 1, "utc": true}, "type": "temporal", "axis": null},
            "y": {"datum": 0.3757, "type": "quantitative", "axis": null},
            "text": {"value": "DATA SET: champs_V8.SUBS.nc.1m75"}
          }
        },
        {
          "data": {"values": [{}]},
          "mark": {"type": "text", "align": "center", "baseline": "middle", "font": "Liberation Sans", "fontSize": 10, "color": "#222"},
          "encoding": {
            "x": {"datum": {"year": 2015, "month": 6, "date": 12, "hours": 12, "utc": true}, "type": "temporal", "axis": null},
            "y": {"datum": 0.3319, "type": "quantitative", "axis": null},
            "text": {"value": "SP&M Grand-Etang"}
          }
        },
        {
          "data": {"values": [{}]},
          "mark": {"type": "text", "align": "center", "baseline": "middle", "font": "Liberation Sans", "fontSize": 14, "color": "#222"},
          "encoding": {
            "x": {"datum": {"year": 2015, "month": 5, "date": 28, "hours": 11, "minutes": 15, "utc": true}, "type": "temporal", "axis": null},
            "y": {"datum": -0.346, "type": "quantitative", "axis": null},
            "text": {"value": "MAY"}
          }
        },
        {
          "data": {"values": [{}]},
          "mark": {"type": "text", "align": "center", "baseline": "middle", "font": "Liberation Sans", "fontSize": 14, "color": "#222"},
          "encoding": {
            "x": {"datum": {"year": 2015, "month": 6, "date": 16, "hours": 0, "minutes": 45, "utc": true}, "type": "temporal", "axis": null},
            "y": {"datum": -0.346, "type": "quantitative", "axis": null},
            "text": {"value": "JUN"}
          }
        },
        {
          "data": {"values": [{}]},
          "mark": {"type": "text", "align": "center", "baseline": "alphabetic", "font": "Liberation Serif", "fontSize": 24, "color": "#222"},
          "encoding": {
            "x": {"datum": {"year": 2015, "month": 6, "date": 12, "hours": 12, "utc": true}, "type": "temporal", "axis": null},
            "y": {"datum": -0.4647, "type": "quantitative", "axis": null},
            "text": {"value": "3d zonal velocity (m.s-1)"}
          }
        },
        {
          "data": {"values": [{}]},
          "mark": {"type": "text", "align": "left", "baseline": "alphabetic", "font": "Liberation Sans", "fontSize": 23, "color": "#111"},
          "encoding": {
            "x": {"datum": {"year": 2015, "month": 5, "date": 25, "hours": 1, "minutes": 50, "utc": true}, "type": "temporal", "axis": null},
            "y": {"datum": -0.6497, "type": "quantitative", "axis": null},
            "text": {"value": "Figure 25 : Comparaison de chaque composante VZ (méridionale) et UZ (zonale) de vitesse du"}
          }
        }
      ]
    }
  ]
}
